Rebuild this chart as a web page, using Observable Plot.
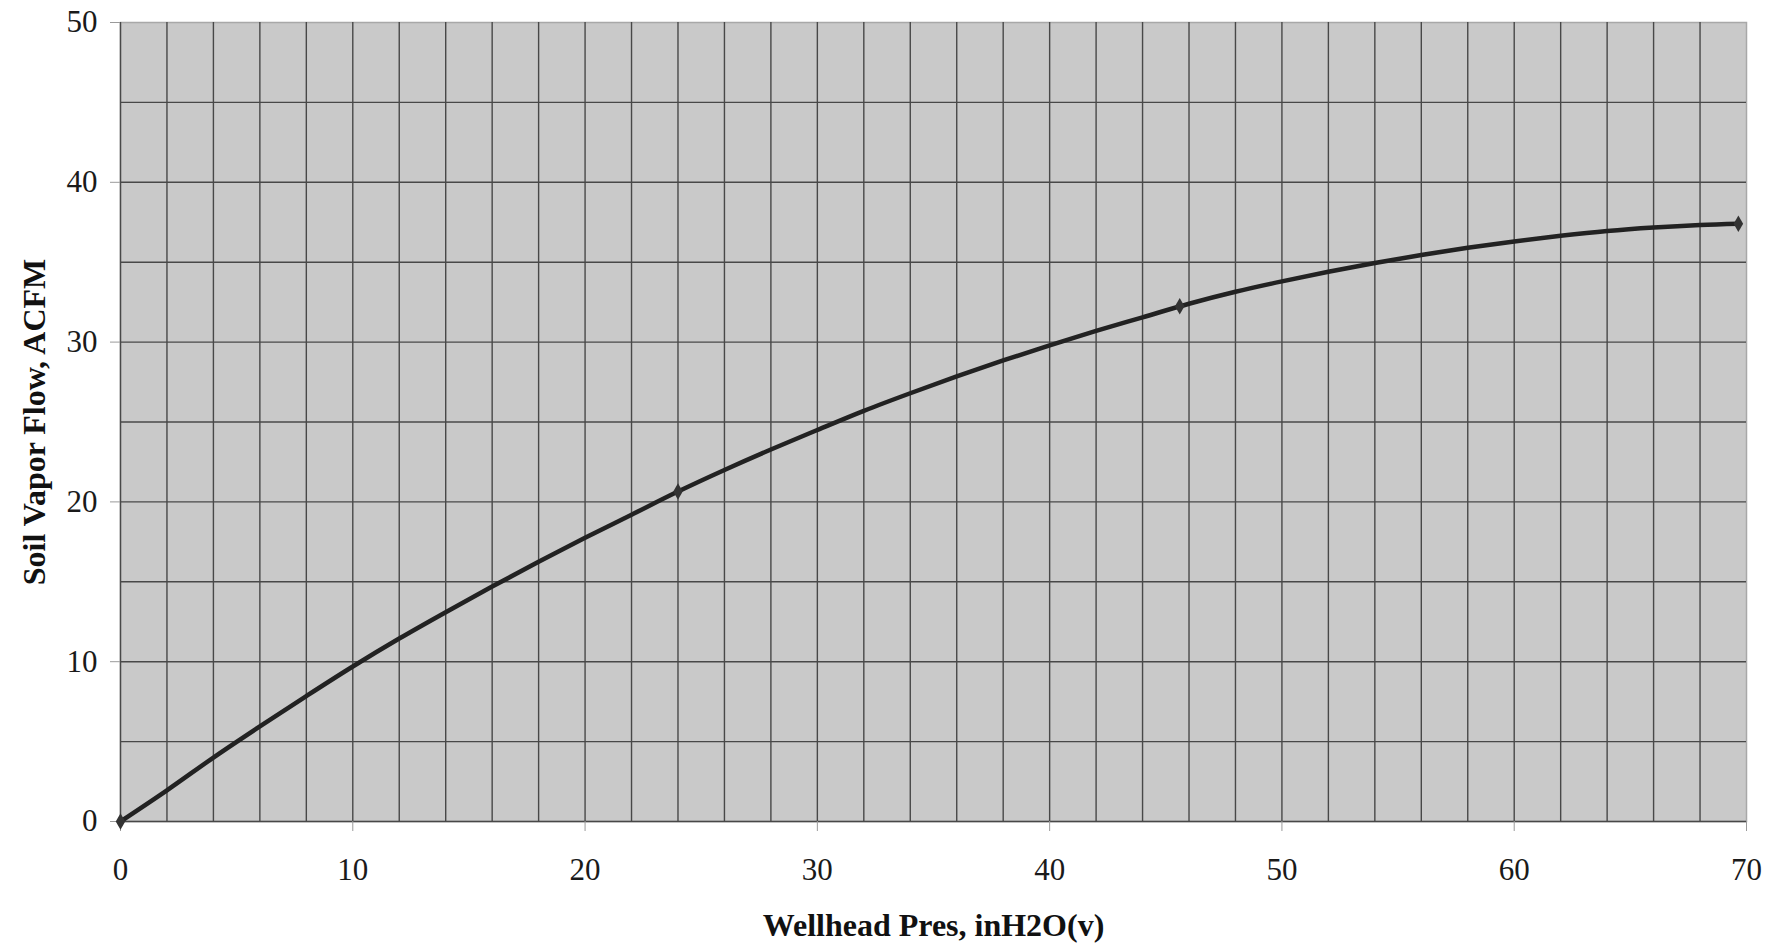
<!DOCTYPE html>
<html><head><meta charset="utf-8">
<script src="https://cdn.jsdelivr.net/npm/d3@7"></script>
<script src="https://cdn.jsdelivr.net/npm/@observablehq/plot@0.6"></script>
<style>body{margin:0;background:#fff}</style>
</head><body><div id="chart"></div>
<script>
// Marked data points
const pressure = [0, 24.0, 45.6, 69.65];
const flow = [0, 20.65, 32.25, 37.41];
// Smoothed curve
const curvePressure = [0, 2, 4, 6, 8, 10, 12, 14, 16, 18, 20, 22, 24, 26, 28, 30, 32, 34, 36, 38, 40, 42, 44, 46, 48, 50, 52, 54, 56, 58, 60, 62, 64, 66, 68, 69.65];
const curveFlow = [0, 1.95, 4.0, 5.95, 7.85, 9.7, 11.45, 13.1, 14.7, 16.25, 17.75, 19.2, 20.65, 22.0, 23.28, 24.5, 25.7, 26.8, 27.85, 28.85, 29.8, 30.7, 31.55, 32.4, 33.15, 33.8, 34.4, 34.95, 35.45, 35.9, 36.3, 36.65, 36.95, 37.17, 37.33, 37.41];
const xTicks = [0, 10, 20, 30, 40, 50, 60, 70];
const yTicks = [0, 10, 20, 30, 40, 50];
const xGrid = [0, 2, 4, 6, 8, 10, 12, 14, 16, 18, 20, 22, 24, 26, 28, 30, 32, 34, 36, 38, 40, 42, 44, 46, 48, 50, 52, 54, 56, 58, 60, 62, 64, 66, 68];
const yGrid = [0, 5, 10, 15, 20, 25, 30, 35, 40, 45];
const xTitle = "Wellhead Pres, inH2O(v)";
const yTitle = "Soil Vapor Flow, ACFM";

const points = pressure.map((p, i) => ({p, f: flow[i]}));
const curve = curvePressure.map((p, i) => ({p, f: curveFlow[i]}));
const font = "'Liberation Serif', 'Times New Roman', serif";

const chart = Plot.plot({
  width: 1781, height: 947,
  marginLeft: 120, marginRight: 35, marginTop: 22, marginBottom: 126,
  x: {domain: [0, 70]},
  y: {domain: [0, 50]},
  style: {fontFamily: font, background: "#fff"},
  marks: [
    Plot.frame({fill: "#c9c9c9", stroke: "#a8a8a8", strokeWidth: 1.5}),
    Plot.ruleX(xGrid, {stroke: "#484848", strokeWidth: 1.4}),
    Plot.ruleY(yGrid, {stroke: "#484848", strokeWidth: 1.4}),
    Plot.axisX({ticks: xTicks, tickSize: 10, tickPadding: 26, fontSize: 31, label: null, stroke: "#9a9a9a", fill: "#1a1a1a"}),
    Plot.axisY({ticks: yTicks, tickSize: 10, tickPadding: 13, fontSize: 31, label: null, stroke: "#9a9a9a", fill: "#1a1a1a"}),
    Plot.line(curve, {x: "p", y: "f", curve: "catmull-rom", stroke: "#222", strokeWidth: 4.5}),
    Plot.dot(points, {x: "p", y: "f", symbol: "diamond", r: 5, fill: "#333"}),
    Plot.text([xTitle], {frameAnchor: "bottom", lineAnchor: "middle", textAnchor: "middle", dy: 104, fontSize: 32, fontWeight: "bold", fill: "#111"}),
    Plot.text([yTitle], {frameAnchor: "left", lineAnchor: "middle", textAnchor: "middle", dx: -86, rotate: -90, fontSize: 32, fontWeight: "bold", fill: "#111"})
  ]
});
document.getElementById("chart").append(chart);
</script>
</body></html>
